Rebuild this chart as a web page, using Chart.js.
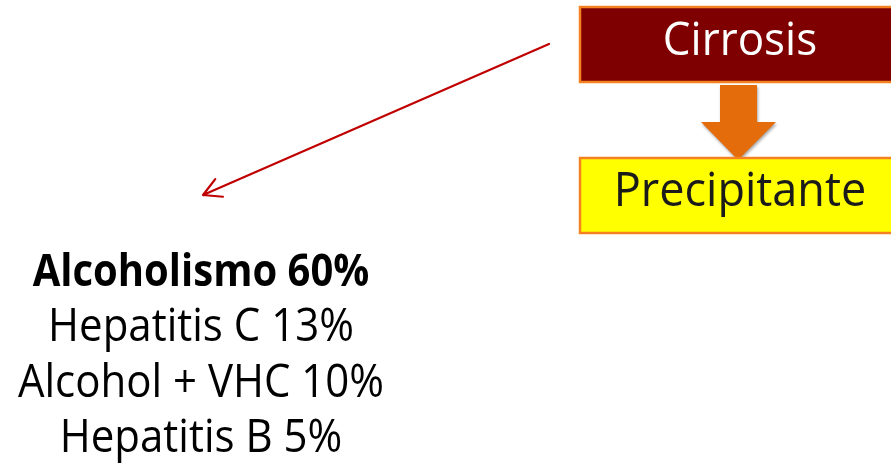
<!DOCTYPE html>
<html>
<head>
<meta charset="utf-8">
<script src="https://cdn.jsdelivr.net/npm/chart.js@4"></script>
<style>
  html, body { margin: 0; padding: 0; background: #fff; }
  canvas { display: block; }
</style>
</head>
<body>
<canvas id="diagrama" width="891" height="468"></canvas>
<script>
// etiologia de la cirrosis
const causas = ["Alcoholismo", "Hepatitis C", "Alcohol + VHC", "Hepatitis B"];
const porcentajes = [60, 13, 10, 5];
const cajas = ["Cirrosis", "Precipitante"];

const FONT = "'Open Sans', 'Noto Sans', sans-serif";

// puntos en coordenadas del lienzo (ejes 0..891 x 0..468)
let sx, sy;
const X = v => sx.getPixelForValue(v);
const Y = v => sy.getPixelForValue(v);

// texto centrado, algo estirado en vertical
function texto(ctx, str, x, base, font, color, stretch) {
  ctx.save();
  ctx.font = font;
  ctx.fillStyle = color;
  ctx.textAlign = "center";
  ctx.textBaseline = "alphabetic";
  ctx.translate(X(x), Y(base));
  ctx.scale(1, stretch);
  ctx.fillText(str, 0, 0);
  ctx.restore();
}

function caja(ctx, x0, y0, x1, y1, fill, label, color, base, size) {
  ctx.save();
  ctx.fillStyle = fill;
  ctx.fillRect(X(x0), Y(y0), X(x1) - X(x0), Y(y1) - Y(y0));
  ctx.strokeStyle = "#f58220";
  ctx.lineWidth = 2.5;
  ctx.strokeRect(X(x0), Y(y0), X(x1) - X(x0), Y(y1) - Y(y0));
  ctx.restore();
  texto(ctx, label, x0 + 160, base, size + "px " + FONT, color, 1.04);
}

const diagrama = {
  id: "diagrama",
  afterDraw(c) {
    const ctx = c.ctx;
    sx = c.scales.x;
    sy = c.scales.y;

    caja(ctx, 580, 7, 900, 82, "#7f0000", cajas[0], "#ffffff", 55, 44);

    // flecha naranja entre las dos cajas
    ctx.save();
    ctx.shadowColor = "rgba(0,0,0,0.35)";
    ctx.shadowBlur = 3;
    ctx.shadowOffsetX = 1;
    ctx.shadowOffsetY = 2;
    ctx.fillStyle = "#e46c0a";
    ctx.beginPath();
    ctx.moveTo(X(720), Y(85));
    ctx.lineTo(X(757), Y(85));
    ctx.lineTo(X(757), Y(122));
    ctx.lineTo(X(776), Y(122));
    ctx.lineTo(X(738), Y(160));
    ctx.lineTo(X(701), Y(122));
    ctx.lineTo(X(720), Y(122));
    ctx.closePath();
    ctx.fill();
    ctx.restore();

    caja(ctx, 580, 158, 900, 233, "#ffff00", cajas[1], "#1a1a1a", 206, 45);

    // flecha roja hacia la lista
    ctx.save();
    ctx.strokeStyle = "#c00000";
    ctx.lineWidth = 2.2;
    ctx.lineCap = "round";
    const ax = X(549), ay = Y(44), bx = X(203), by = Y(195);
    ctx.beginPath();
    ctx.moveTo(ax, ay);
    ctx.lineTo(bx, by);
    const ang = Math.atan2(ay - by, ax - bx);
    [0.5, -0.5].forEach(d => {
      ctx.moveTo(bx, by);
      ctx.lineTo(bx + 20 * Math.cos(ang + d), by + 20 * Math.sin(ang + d));
    });
    ctx.stroke();
    ctx.restore();

    // lista de causas
    causas.forEach((causa, i) => {
      const font = (i === 0 ? "bold 40px " : "42px ") + FONT;
      texto(ctx, causa + " " + porcentajes[i] + "%", 201, 286 + i * 55.3, font, "#000", 1.1);
    });
  }
};

new Chart(document.getElementById("diagrama"), {
  type: "scatter",
  data: { datasets: [{ data: [] }] },
  options: {
    responsive: false,
    animation: false,
    layout: { padding: 0 },
    plugins: { legend: { display: false }, tooltip: { enabled: false } },
    scales: {
      x: { type: "linear", min: 0, max: 891, display: false },
      y: { type: "linear", min: 0, max: 468, reverse: true, display: false }
    }
  },
  plugins: [diagrama]
});
</script>
</body>
</html>
